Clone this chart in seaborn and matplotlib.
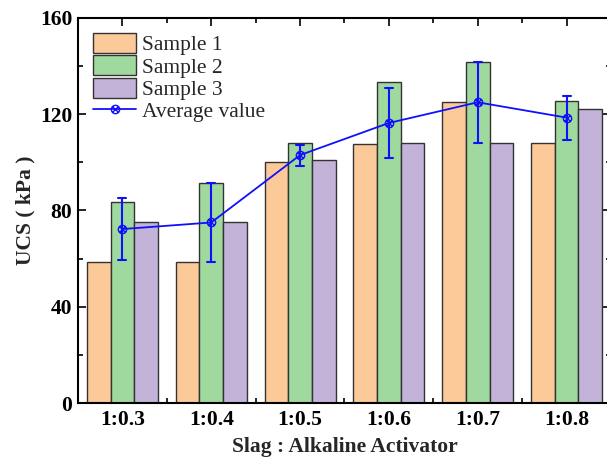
import numpy as np
import pandas as pd
import matplotlib
matplotlib.use("Agg")
import matplotlib.pyplot as plt
import seaborn as sns
from matplotlib.path import Path
from matplotlib.patches import Patch
from matplotlib.lines import Line2D
from matplotlib.ticker import FixedLocator, MultipleLocator

# 数据
ratios = ["1:0.3", "1:0.4", "1:0.5", "1:0.6", "1:0.7", "1:0.8"]
sample1 = [58.4, 58.4, 100.0, 107.6, 124.9, 108.2]
sample2 = [83.4, 91.6, 108.0, 133.2, 141.7, 125.5]
sample3 = [75.0, 75.0, 101.0, 108.2, 108.2, 122.0]
sample_names = ["Sample 1", "Sample 2", "Sample 3"]
colors = ["#FCC998", "#9FD99E", "#C3B3D8"]
line_color = "#1010FF"

sns.set_theme(style="ticks")
plt.rcParams["font.family"] = ["Liberation Serif", "DejaVu Serif"]

rows = []
for name, vals in zip(sample_names, [sample1, sample2, sample3]):
    for r, v in zip(ratios, vals):
        rows.append({"ratio": r, "sample": name, "ucs": v})
df = pd.DataFrame(rows)

# 圆圈加叉的标记
circle = Path.unit_circle()
cross = Path([[-0.72, -0.72], [0.72, 0.72], [-0.72, 0.72], [0.72, -0.72]],
             [Path.MOVETO, Path.LINETO, Path.MOVETO, Path.LINETO])
otimes = Path.make_compound_path(circle, cross)

fig = plt.figure(figsize=(6.07, 4.58), dpi=100)
ax = fig.add_axes([0.1285, 0.12, 0.878, 0.841])

sns.barplot(data=df, x="ratio", y="ucs", hue="sample", palette=colors,
            saturation=1, errorbar=None, width=0.8, edgecolor="#333333",
            linewidth=1.0, legend=False, ax=ax)
sns.pointplot(data=df, x="ratio", y="ucs", errorbar="sd", capsize=0.09,
              color=line_color, marker=otimes, markersize=6,
              markerfacecolor="none", markeredgecolor=line_color,
              markeredgewidth=1.0, linewidth=1.3,
              err_kws={"linewidth": 1.5}, ax=ax)

ax.set_xlim(-0.5, 5.5)
ax.set_ylim(0, 160)
ax.yaxis.set_major_locator(MultipleLocator(40))
ax.yaxis.set_minor_locator(MultipleLocator(20))
ax.xaxis.set_minor_locator(FixedLocator(np.arange(-0.5, 6, 1)))

for s in ax.spines.values():
    s.set_linewidth(1.5)
    s.set_color("black")
ax.tick_params(which="both", direction="in", top=True, right=True,
               width=1.2, color="black")
ax.tick_params(which="major", length=6)
ax.tick_params(which="minor", length=3.5)
ax.tick_params(axis="x", which="major", pad=5)
ax.tick_params(axis="y", which="major", pad=4)
for lab in ax.get_xticklabels() + ax.get_yticklabels():
    lab.set_fontweight("bold")
    lab.set_fontsize(15.5)
    lab.set_color("black")

ax.set_xlabel("Slag : Alkaline Activator", fontsize=15.5, fontweight="bold", labelpad=5)
ax.set_ylabel("UCS ( kPa )", fontsize=15.5, fontweight="bold", labelpad=3)

handles = [Patch(facecolor=c, edgecolor="#333333", linewidth=1.0) for c in colors]
handles.append(Line2D([], [], color=line_color, linewidth=1.3, marker=otimes,
                      markersize=6, markerfacecolor="none",
                      markeredgecolor=line_color, markeredgewidth=1.0))
ax.legend(handles, sample_names + ["Average value"], loc="upper left",
          frameon=False, fontsize=15.5, handlelength=2.0, handleheight=1.05,
          labelspacing=0.0, handletextpad=0.25, borderaxespad=0.3,
          bbox_to_anchor=(0.0, 1.0))

fig.savefig("out.png", dpi=100)
